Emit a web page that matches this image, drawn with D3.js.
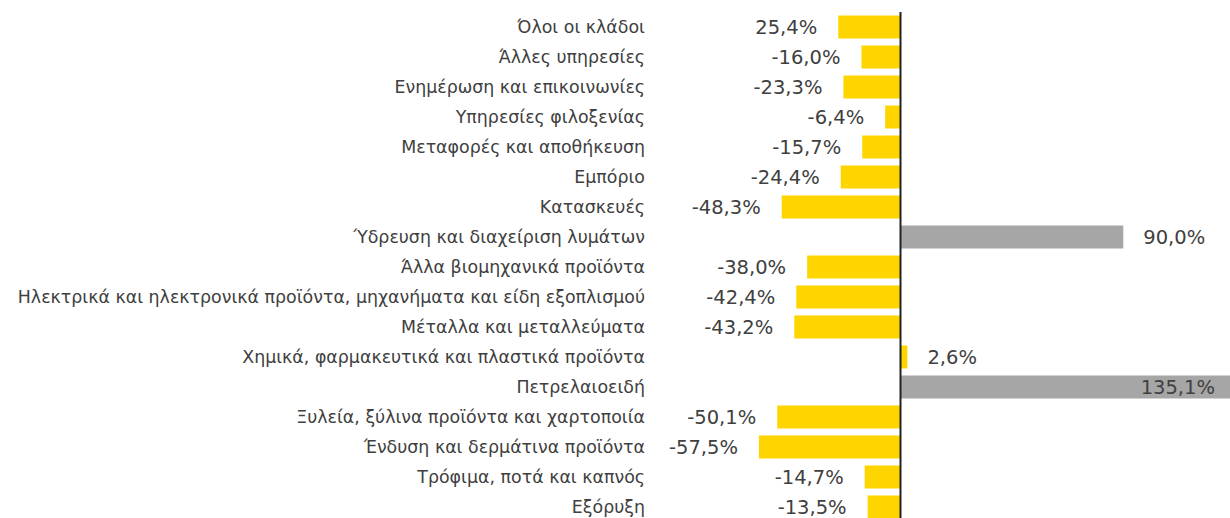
<!DOCTYPE html>
<html>
<head>
<meta charset="utf-8">
<script src="https://cdn.jsdelivr.net/npm/d3@7"></script>
<style>
  body { margin: 0; background: #fff; }
  svg { display: block; }
  text { font-family: "DejaVu Sans", Verdana, sans-serif; fill: #404040; }
</style>
</head>
<body>
<div id="chart"></div>
<script>
// data
const categories = [
  "Όλοι οι κλάδοι",
  "Άλλες υπηρεσίες",
  "Ενημέρωση και επικοινωνίες",
  "Υπηρεσίες φιλοξενίας",
  "Μεταφορές και αποθήκευση",
  "Εμπόριο",
  "Κατασκευές",
  "Ύδρευση και διαχείριση λυμάτων",
  "Άλλα βιομηχανικά προϊόντα",
  "Ηλεκτρικά και ηλεκτρονικά προϊόντα, μηχανήματα και είδη εξοπλισμού",
  "Μέταλλα και μεταλλεύματα",
  "Χημικά, φαρμακευτικά και πλαστικά προϊόντα",
  "Πετρελαιοειδή",
  "Ξυλεία, ξύλινα προϊόντα και χαρτοποιία",
  "Ένδυση και δερμάτινα προϊόντα",
  "Τρόφιμα, ποτά και καπνός",
  "Εξόρυξη"
];
const values = [-25.4, -16.0, -23.3, -6.4, -15.7, -24.4, -48.3, 90.0, -38.0, -42.4, -43.2, 2.6, 135.1, -50.1, -57.5, -14.7, -13.5];
// the first label is printed without its minus sign in the original
const valueLabels = ["25,4%", "-16,0%", "-23,3%", "-6,4%", "-15,7%", "-24,4%", "-48,3%", "90,0%", "-38,0%", "-42,4%", "-43,2%", "2,6%", "135,1%", "-50,1%", "-57,5%", "-14,7%", "-13,5%"];
const highlight = ["Ύδρευση και διαχείριση λυμάτων", "Πετρελαιοειδή"];

const width = 1230, height = 518;

const svg = d3.select("#chart")
  .append("svg")
  .attr("width", width)
  .attr("height", height);

const x = d3.scaleLinear()
  .domain([-100, 100])
  .range([901 - 247, 901 + 247]);

const y = d3.scaleBand()
  .domain(categories)
  .range([12, 522])
  .paddingInner(0.233)
  .paddingOuter(0.117);

const rows = categories.map((c, i) => ({ cat: c, v: values[i], label: valueLabels[i] }));

// bars
svg.append("g")
  .selectAll("rect")
  .data(rows)
  .join("rect")
  .attr("x", d => Math.min(x(0), x(d.v)))
  .attr("y", d => y(d.cat))
  .attr("width", d => Math.abs(x(d.v) - x(0)))
  .attr("height", y.bandwidth())
  .attr("fill", d => highlight.includes(d.cat) ? "#A5A6A5" : "#FFD500");

// zero line
svg.append("line")
  .attr("x1", x(0) - 0.5).attr("x2", x(0) - 0.5)
  .attr("y1", 12).attr("y2", height)
  .attr("stroke", "#222")
  .attr("stroke-width", 2);

// category labels
svg.append("g")
  .selectAll("text")
  .data(rows)
  .join("text")
  .attr("x", 645)
  .attr("y", d => y(d.cat) + y.bandwidth() / 2)
  .attr("dy", "0.36em")
  .attr("text-anchor", "end")
  .style("font-size", "17.4px")
  .text(d => d.cat);

// value labels
svg.append("g")
  .selectAll("text")
  .data(rows)
  .join("text")
  .attr("x", d => {
    if (d.v < 0) return x(d.v) - 21;
    if (x(d.v) > width) return width - 15;
    return x(d.v) + 20;
  })
  .attr("y", d => y(d.cat) + y.bandwidth() / 2)
  .attr("dy", "0.36em")
  .attr("text-anchor", d => (d.v < 0 || x(d.v) > width) ? "end" : "start")
  .style("font-size", "19.5px")
  .text(d => d.label);
</script>
</body>
</html>
